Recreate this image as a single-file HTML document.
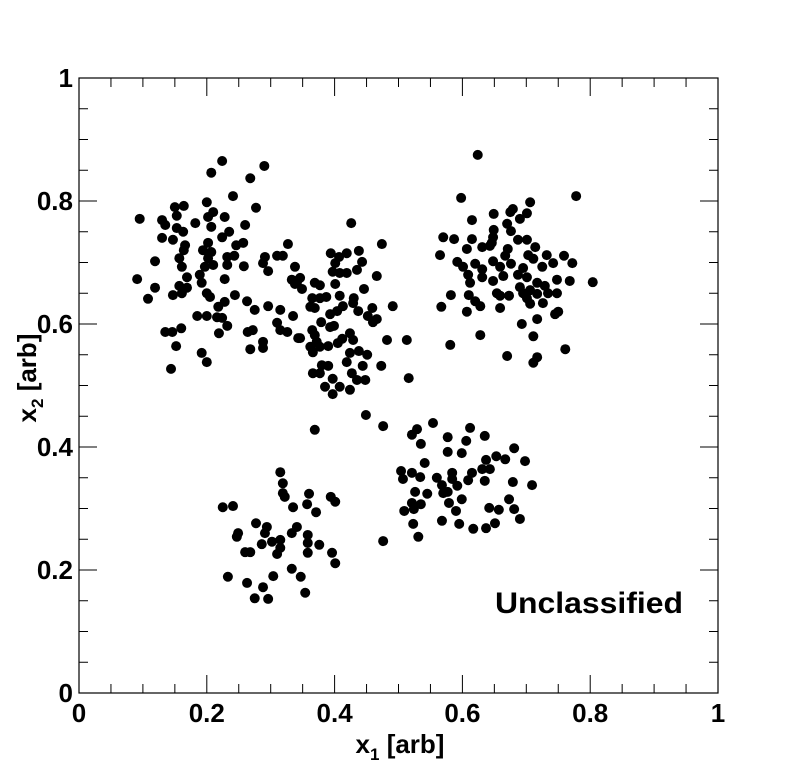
<!DOCTYPE html>
<html><head><meta charset="utf-8">
<style>
html,body{margin:0;padding:0;background:#fff;}
svg{display:block;}
text{font-family:"Liberation Sans",sans-serif;font-weight:bold;fill:#000;}
</style></head>
<body>
<svg id="chart" width="798" height="771" viewBox="0 0 798 771" xmlns="http://www.w3.org/2000/svg">
<rect x="0" y="0" width="798" height="771" fill="#fff"/>
<g id="ticks"></g>
<g id="points"></g>
<rect x="79" y="78" width="639" height="615" fill="none" stroke="#000" stroke-width="1.2"/>
<g id="labels"></g>
<text x="400" y="753" font-size="26" text-anchor="middle">x<tspan font-size="17" dy="7">1</tspan><tspan dy="-7"> [arb]</tspan></text>
<text transform="translate(36,378) rotate(-90)" font-size="26" text-anchor="middle">x<tspan font-size="17" dy="7">2</tspan><tspan dy="-7"> [arb]</tspan></text>
<text x="495" y="613" font-size="30" textLength="188" lengthAdjust="spacingAndGlyphs">Unclassified</text>
</svg>
<script>
const xTickLabels=["0","0.2","0.4","0.6","0.8","1"];
const yTickLabels=["0","0.2","0.4","0.6","0.8","1"];
const xs=[0.449,0.369,0.476,0.521,0.529,0.554,0.535,0.577,0.612,0.606,0.635,0.577,0.599,0.653,0.667,0.681,0.698,0.637,0.541,0.504,0.507,0.521,0.534,0.560,0.584,0.584,0.615,0.609,0.631,0.643,0.635,0.679,0.709,0.568,0.592,0.577,0.570,0.526,0.545,0.599,0.579,0.590,0.521,0.535,0.524,0.509,0.642,0.657,0.673,0.681,0.690,0.651,0.637,0.617,0.595,0.568,0.523,0.531,0.476,
0.315,0.319,0.319,0.322,0.360,0.357,0.371,0.394,0.401,0.335,0.225,0.241,0.277,0.294,0.249,0.247,0.291,0.333,0.341,0.358,0.358,0.358,0.376,0.396,0.401,0.286,0.302,0.315,0.315,0.310,0.260,0.268,0.233,0.263,0.288,0.275,0.296,0.304,0.333,0.347,0.354,
0.624,0.598,0.778,0.706,0.649,0.675,0.679,0.701,0.690,0.615,0.670,0.676,0.649,0.648,0.646,0.570,0.587,0.615,0.687,0.701,0.607,0.631,0.643,0.671,0.714,0.565,0.667,0.703,0.732,0.759,0.592,0.601,0.620,0.648,0.676,0.711,0.742,0.772,0.631,0.659,0.695,0.725,0.609,0.631,0.648,0.664,0.687,0.701,0.717,0.748,0.768,0.804,0.612,0.690,0.706,0.729,0.695,0.717,0.734,0.748,0.582,0.610,0.654,0.659,0.673,0.701,0.620,0.628,0.706,0.726,0.567,0.659,0.607,0.745,0.750,0.717,0.693,0.628,0.711,0.581,0.761,0.670,0.717,0.711,
0.224,0.290,0.207,0.268,0.241,0.200,0.277,0.150,0.164,0.153,0.210,0.095,0.130,0.135,0.182,0.202,0.228,0.207,0.260,0.153,0.163,0.130,0.147,0.235,0.224,0.166,0.164,0.202,0.194,0.207,0.246,0.257,0.327,0.119,0.157,0.161,0.202,0.197,0.210,0.232,0.243,0.232,0.258,0.291,0.310,0.319,0.288,0.296,0.338,0.189,0.169,0.192,0.228,0.091,0.333,0.341,0.119,0.157,0.169,0.161,0.147,0.108,0.200,0.205,0.244,0.228,0.218,0.263,0.275,0.296,0.315,0.335,0.185,0.200,0.216,0.224,0.232,0.135,0.146,0.160,0.219,0.264,0.272,0.310,0.315,0.326,0.343,0.288,0.268,0.288,0.152,0.192,0.200,0.144,
0.426,0.474,0.394,0.407,0.419,0.438,0.443,0.401,0.397,0.408,0.419,0.435,0.466,0.346,0.338,0.349,0.369,0.377,0.401,0.446,0.365,0.377,0.387,0.408,0.430,0.429,0.362,0.369,0.413,0.404,0.393,0.437,0.459,0.452,0.460,0.466,0.491,0.379,0.393,0.399,0.365,0.369,0.372,0.362,0.366,0.377,0.390,0.346,0.405,0.412,0.424,0.429,0.482,0.513,0.424,0.438,0.451,0.419,0.444,0.473,0.380,0.390,0.366,0.377,0.427,0.435,0.448,0.397,0.385,0.408,0.397,0.424,0.516];
const ys=[0.452,0.428,0.434,0.420,0.429,0.439,0.405,0.416,0.431,0.410,0.418,0.392,0.390,0.385,0.380,0.398,0.377,0.379,0.374,0.361,0.348,0.358,0.351,0.350,0.358,0.348,0.358,0.346,0.364,0.364,0.345,0.343,0.338,0.338,0.337,0.327,0.325,0.327,0.324,0.315,0.309,0.296,0.309,0.307,0.299,0.296,0.301,0.298,0.315,0.299,0.283,0.276,0.268,0.267,0.275,0.280,0.275,0.254,0.247,
0.359,0.341,0.325,0.319,0.324,0.307,0.294,0.319,0.311,0.302,0.302,0.304,0.276,0.270,0.260,0.254,0.260,0.260,0.270,0.257,0.244,0.228,0.241,0.228,0.211,0.242,0.246,0.249,0.236,0.226,0.229,0.229,0.189,0.179,0.172,0.154,0.153,0.190,0.202,0.189,0.163,
0.875,0.805,0.808,0.798,0.779,0.782,0.787,0.780,0.771,0.769,0.763,0.751,0.753,0.741,0.732,0.741,0.738,0.738,0.737,0.737,0.722,0.725,0.727,0.722,0.725,0.712,0.711,0.712,0.712,0.711,0.701,0.693,0.698,0.702,0.698,0.706,0.699,0.699,0.689,0.693,0.691,0.693,0.680,0.676,0.670,0.678,0.680,0.676,0.667,0.672,0.670,0.668,0.667,0.660,0.655,0.662,0.650,0.649,0.650,0.650,0.647,0.647,0.650,0.646,0.646,0.642,0.637,0.629,0.633,0.634,0.628,0.626,0.620,0.616,0.620,0.608,0.600,0.582,0.580,0.566,0.559,0.548,0.546,0.537,
0.865,0.857,0.846,0.837,0.808,0.798,0.789,0.790,0.792,0.776,0.782,0.771,0.769,0.761,0.764,0.774,0.774,0.758,0.761,0.756,0.750,0.740,0.737,0.750,0.741,0.728,0.720,0.732,0.720,0.717,0.728,0.732,0.730,0.702,0.707,0.693,0.707,0.693,0.696,0.709,0.711,0.696,0.694,0.709,0.711,0.711,0.699,0.686,0.693,0.680,0.676,0.667,0.673,0.673,0.672,0.667,0.659,0.662,0.659,0.650,0.647,0.641,0.650,0.644,0.647,0.636,0.628,0.637,0.623,0.629,0.623,0.613,0.613,0.613,0.611,0.610,0.597,0.587,0.587,0.593,0.585,0.587,0.590,0.602,0.590,0.587,0.577,0.571,0.559,0.561,0.564,0.553,0.538,0.527,
0.764,0.730,0.715,0.709,0.715,0.719,0.701,0.699,0.685,0.683,0.683,0.688,0.678,0.675,0.665,0.657,0.667,0.663,0.665,0.657,0.642,0.642,0.644,0.646,0.642,0.634,0.628,0.626,0.629,0.621,0.616,0.621,0.626,0.613,0.603,0.608,0.629,0.603,0.595,0.597,0.590,0.582,0.571,0.563,0.554,0.563,0.564,0.577,0.569,0.576,0.585,0.574,0.574,0.574,0.553,0.556,0.550,0.538,0.532,0.532,0.533,0.532,0.520,0.520,0.520,0.509,0.509,0.511,0.498,0.498,0.486,0.493,0.512];

const X0=79,X1=718,Y0=693,Y1=78;
function sx(v){return X0+(X1-X0)*v;}
function sy(v){return Y0-(Y0-Y1)*v;}
const NS="http://www.w3.org/2000/svg";
const tg=document.getElementById('ticks');
for(let i=0;i<=20;i++){
  const v=i*0.05, major=(i%4===0), L=major?18:9;
  const segs=[[sx(v),Y0,sx(v),Y0-L],[sx(v),Y1,sx(v),Y1+L],[X0,sy(v),X0+L,sy(v)],[X1,sy(v),X1-L,sy(v)]];
  segs.forEach(s=>{
    const ln=document.createElementNS(NS,'line');
    ln.setAttribute('x1',s[0]);ln.setAttribute('y1',s[1]);ln.setAttribute('x2',s[2]);ln.setAttribute('y2',s[3]);
    ln.setAttribute('stroke','#000');ln.setAttribute('stroke-width','1');
    
    
    tg.appendChild(ln);
  });
}
const lg=document.getElementById('labels');
xTickLabels.forEach((t,i)=>{
  const e=document.createElementNS(NS,'text');
  e.setAttribute('x',sx(i*0.2));e.setAttribute('y',722);e.setAttribute('font-size','26');e.setAttribute('text-anchor','middle');
  e.textContent=t;
  
  
  lg.appendChild(e);
});
yTickLabels.forEach((t,i)=>{
  const e=document.createElementNS(NS,'text');
  e.setAttribute('x',73);e.setAttribute('y',sy(i*0.2)+9);e.setAttribute('font-size','26');e.setAttribute('text-anchor','end');
  e.textContent=t;
  
  
  lg.appendChild(e);
});
const pg=document.getElementById('points');
for(let i=0;i<xs.length;i++){
  const c=document.createElementNS(NS,'circle');
  c.setAttribute('cx',sx(xs[i]));c.setAttribute('cy',sy(ys[i]));c.setAttribute('r','5');c.setAttribute('fill','#000');
  
  
  pg.appendChild(c);
}
</script>
</body></html>
